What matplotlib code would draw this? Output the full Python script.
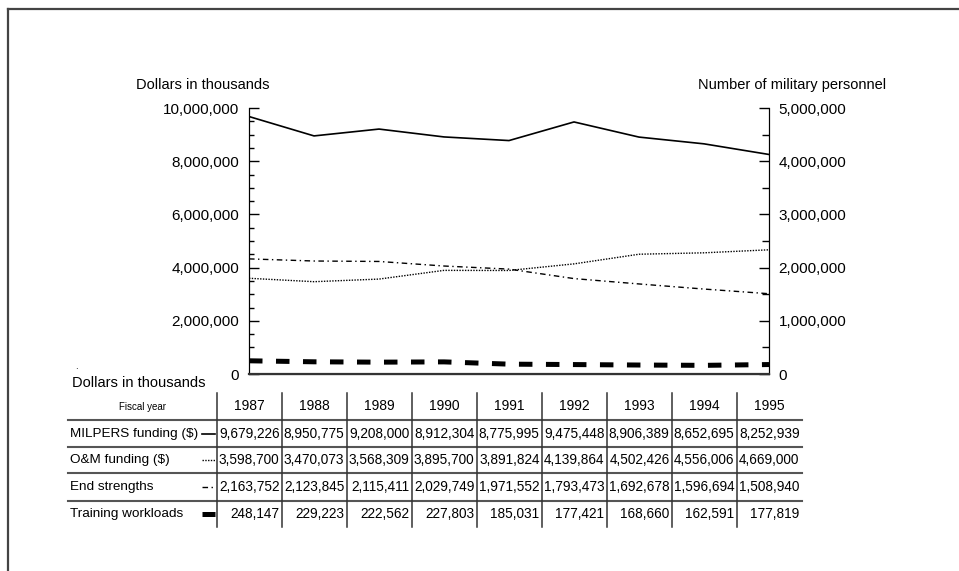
"""
MILPERS / O&M funding vs. end strengths and training workloads, FY1987-1995.
Line chart on two y axes with a data table underneath.
"""

import matplotlib
matplotlib.use("Agg")
import matplotlib.pyplot as plt
from matplotlib.ticker import MultipleLocator, FuncFormatter
from matplotlib.lines import Line2D

plt.rcParams['font.family'] = ['Liberation Sans', 'DejaVu Sans']

# --- Data ---
years = [1987, 1988, 1989, 1990, 1991, 1992, 1993, 1994, 1995]
milpers = [9679226, 8950775, 9208000, 8912304, 8775995, 9475448, 8906389, 8652695, 8252939]
om_funding = [3598700, 3470073, 3568309, 3895700, 3891824, 4139864, 4502426, 4556006, 4669000]
end_strengths = [2163752, 2123845, 2115411, 2029749, 1971552, 1793473, 1692678, 1596694, 1508940]
training = [248147, 229223, 222562, 227803, 185031, 177421, 168660, 162591, 177819]

row_labels = ["MILPERS funding ($)", "O&M funding ($)", "End strengths", "Training workloads"]

# --- Line styles (shared by chart and table legend samples) ---
STYLES = [
    dict(color='black', lw=1.2, ls='-'),
    dict(color='black', lw=1.0, ls=(0, (1, 1))),
    dict(color='black', lw=1.0, ls=(0, (4, 2.5, 1, 2.5))),
    dict(color='black', lw=3.6, ls=(0, (2.7, 2.7))),
]

W, H = 959, 571
fig = plt.figure(figsize=(W / 100, H / 100), dpi=100)

# Plot area in pixels
PX_L, PX_R, PX_T, PX_B = 249, 769, 108, 374
ax = fig.add_axes([PX_L / W, 1 - PX_B / H, (PX_R - PX_L) / W, (PX_B - PX_T) / H])
ax2 = ax.twinx()

ax.plot(years, milpers, **STYLES[0])
ax.plot(years, om_funding, **STYLES[1])
ax2.plot(years, end_strengths, **STYLES[2])
ax2.plot(years, training, **STYLES[3])

fmt = FuncFormatter(lambda v, p: f"{int(v):,}")

ax.set_xlim(years[0], years[-1])
ax.set_ylim(0, 10_000_000)
ax2.set_ylim(0, 5_000_000)

ax.yaxis.set_major_locator(MultipleLocator(2_000_000))
ax.yaxis.set_minor_locator(MultipleLocator(500_000))
ax.yaxis.set_major_formatter(fmt)
ax2.yaxis.set_major_locator(MultipleLocator(1_000_000))
ax2.yaxis.set_minor_locator(MultipleLocator(500_000))
ax2.yaxis.set_major_formatter(fmt)

ax.tick_params(axis='y', which='major', direction='in', length=7, width=1, pad=7, labelsize=11)
ax.tick_params(axis='y', which='minor', direction='in', length=3.5, width=1)
ax2.tick_params(axis='y', which='major', direction='in', length=7.5, width=1, pad=7, labelsize=11)
ax2.tick_params(axis='y', which='minor', direction='in', length=5, width=1)
ax.set_xticks([])

for a in (ax, ax2):
    a.spines['top'].set_visible(False)
    a.patch.set_visible(False)
ax2.spines['bottom'].set_linewidth(1.6)
ax2.spines['bottom'].set_color('#333333')

# --- Overlay in pixel coordinates for texts and table ---
ov = fig.add_axes([0, 0, 1, 1], zorder=-1)
ov.set_xlim(0, W)
ov.set_ylim(H, 0)
ov.axis('off')

# frame (left and top edges)
ov.add_line(Line2D([8, 8], [H, 9], color='#444444', lw=1.6))
ov.add_line(Line2D([8, W], [9, 9], color='#444444', lw=1.6))

ov.text(136, 85, "Dollars in thousands", fontsize=10.5, va='center', ha='left')
ov.text(698, 85, "Number of military personnel", fontsize=10.5, va='center', ha='left')
ov.text(75, 366, ".", fontsize=7, va='center', ha='left')
ov.text(72, 383, "Dollars in thousands", fontsize=10.5, va='center', ha='left')

# table geometry
LBL_L, COL0, COL_W = 68, 217, 65
HDR_T = 393
ROW_EDGES = [420, 447, 473, 501, 527]
col_edges = [COL0 + i * COL_W for i in range(len(years) + 1)]
tbl_right = col_edges[-1]

ov.text((LBL_L + COL0) / 2, (HDR_T + ROW_EDGES[0]) / 2, "Fiscal year",
        fontsize=7, ha='center', va='center')
for i, yr in enumerate(years):
    ov.text(col_edges[i] + COL_W / 2, (HDR_T + ROW_EDGES[0]) / 2, str(yr),
            fontsize=10, ha='center', va='center')

# horizontal rules
for y in ROW_EDGES[:-1]:
    ov.add_line(Line2D([LBL_L, tbl_right], [y, y], color='#555555', lw=1.5))
# vertical rules
for x in col_edges[:-1]:
    ov.add_line(Line2D([x, x], [HDR_T, ROW_EDGES[-1]], color='#333333', lw=1.1))

series = [milpers, om_funding, end_strengths, training]
for r, (label, vals, st) in enumerate(zip(row_labels, series, STYLES)):
    yc = (ROW_EDGES[r] + ROW_EDGES[r + 1]) / 2
    ov.text(70, yc, label, fontsize=9.7, ha='left', va='center')
    ov.add_line(Line2D([202, 215], [yc, yc], **st))
    for i, v in enumerate(vals):
        ov.text(col_edges[i + 1] - 2.5, yc, f"{v:,}", fontsize=9.8, ha='right', va='center')

fig.savefig("out.png", dpi=100)
